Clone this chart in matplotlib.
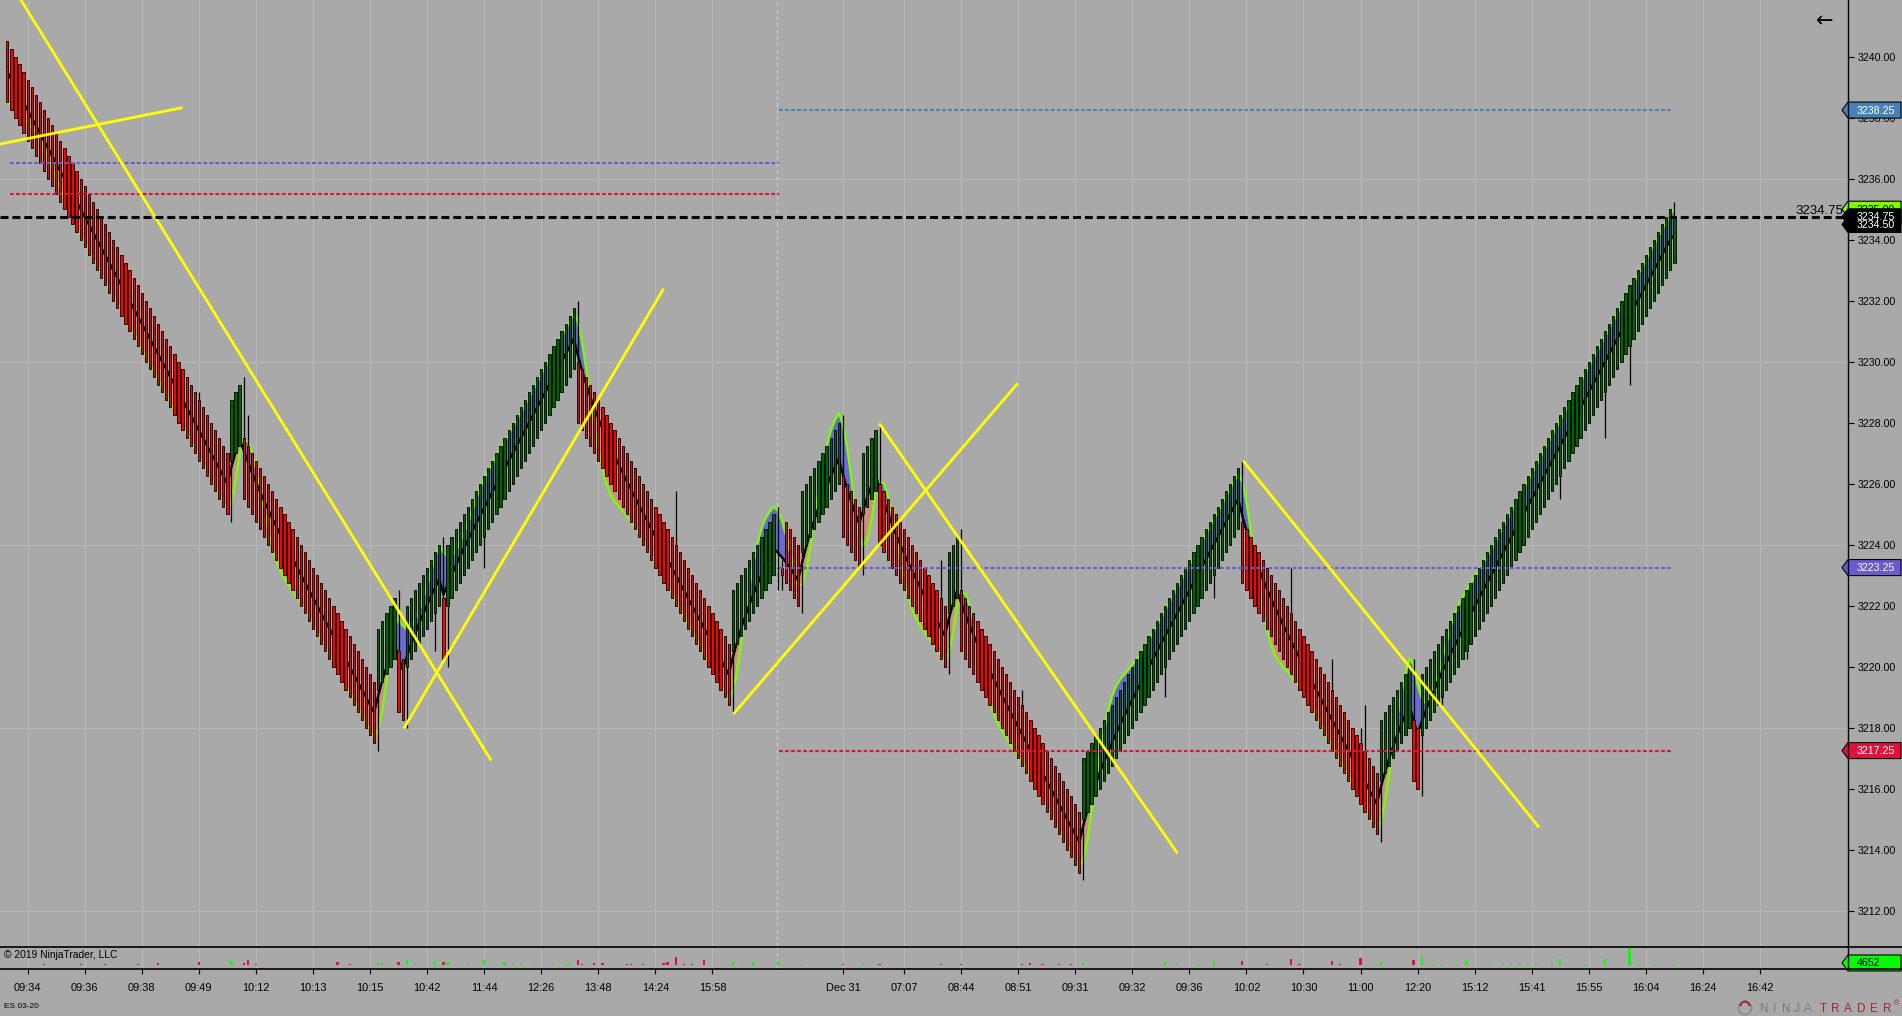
import numpy as np
import matplotlib
matplotlib.use("Agg")
import matplotlib.pyplot as plt
from matplotlib.patches import Polygon, Circle, Arc

plt.rcParams['font.family'] = ['Liberation Sans', 'DejaVu Sans']

# ------------------------------------------------------------------ data
close = [
    3238.50, 3238.25, 3238.00, 3237.75, 3237.50, 3237.25, 3237.00, 3236.75, 3236.50, 3236.25,
    3236.00, 3235.75, 3235.50, 3235.25, 3235.00, 3234.75, 3234.50, 3234.25, 3234.00, 3233.75,
    3233.50, 3233.25, 3233.00, 3232.75, 3232.50, 3232.25, 3232.00, 3231.75, 3231.50, 3231.25,
    3231.00, 3230.75, 3230.50, 3230.25, 3230.00, 3229.75, 3229.50, 3229.25, 3229.00, 3228.75,
    3228.50, 3228.25, 3228.00, 3227.75, 3227.50, 3227.25, 3227.00, 3226.75, 3226.50, 3226.25,
    3226.00, 3225.75, 3225.50, 3225.25, 3225.00,
    3228.75, 3229.00, 3229.25,
    3225.50, 3225.25, 3225.00, 3224.75, 3224.50, 3224.25, 3224.00, 3223.75, 3223.50, 3223.25,
    3223.00, 3222.75, 3222.50, 3222.25, 3222.00, 3221.75, 3221.50, 3221.25, 3221.00, 3220.75,
    3220.50, 3220.25, 3220.00, 3219.75, 3219.50, 3219.25, 3219.00, 3218.75, 3218.50, 3218.25,
    3218.00, 3217.75, 3217.50,
    3221.25, 3221.50, 3221.75, 3222.00, 3222.25,
    3218.50, 3218.25,
    3222.00, 3222.25, 3222.50, 3222.75, 3223.00, 3223.25, 3223.50, 3223.75, 3224.00,
    3220.25,
    3224.00, 3224.25, 3224.50, 3224.75, 3225.00, 3225.25, 3225.50, 3225.75, 3226.00, 3226.25,
    3226.50, 3226.75, 3227.00, 3227.25, 3227.50, 3227.75, 3228.00, 3228.25, 3228.50, 3228.75,
    3229.00, 3229.25, 3229.50, 3229.75, 3230.00, 3230.25, 3230.50, 3230.75, 3231.00, 3231.25,
    3231.50, 3231.75,
    3228.00, 3227.75, 3227.50, 3227.25, 3227.00, 3226.75, 3226.50, 3226.25, 3226.00, 3225.75,
    3225.50, 3225.25, 3225.00, 3224.75, 3224.50, 3224.25, 3224.00, 3223.75, 3223.50, 3223.25,
    3223.00, 3222.75, 3222.50, 3222.25, 3222.00, 3221.75, 3221.50, 3221.25, 3221.00, 3220.75,
    3220.50, 3220.25, 3220.00, 3219.75, 3219.50, 3219.25, 3219.00, 3218.75,
    3222.50, 3222.75, 3223.00, 3223.25, 3223.50, 3223.75, 3224.00, 3224.25, 3224.50, 3224.75,
    3225.00,
    3223.25, 3223.00, 3222.75, 3222.50, 3222.25, 3222.00,
    3225.75, 3226.00, 3226.25, 3226.50, 3226.75, 3227.00, 3227.25, 3227.50, 3227.75, 3228.00,
    3224.25, 3224.00, 3223.75, 3223.50, 3223.25,
    3227.00, 3227.25, 3227.50, 3227.75,
    3224.00, 3223.75, 3223.50, 3223.25, 3223.00, 3222.75, 3222.50, 3222.25, 3222.00, 3221.75,
    3221.50, 3221.25, 3221.00, 3220.75, 3220.50, 3220.25, 3220.00,
    3223.75, 3224.00, 3224.25,
    3220.50, 3220.25, 3220.00, 3219.75, 3219.50, 3219.25, 3219.00, 3218.75, 3218.50, 3218.25,
    3218.00, 3217.75, 3217.50, 3217.25, 3217.00, 3216.75, 3216.50, 3216.25, 3216.00, 3215.75,
    3215.50, 3215.25, 3215.00, 3214.75, 3214.50, 3214.25, 3214.00, 3213.75, 3213.50, 3213.25,
    3217.00, 3217.25, 3217.50, 3217.75, 3218.00, 3218.25, 3218.50, 3218.75, 3219.00, 3219.25,
    3219.50, 3219.75, 3220.00, 3220.25, 3220.50, 3220.75, 3221.00, 3221.25, 3221.50, 3221.75,
    3222.00, 3222.25, 3222.50, 3222.75, 3223.00, 3223.25, 3223.50, 3223.75, 3224.00, 3224.25,
    3224.50, 3224.75, 3225.00, 3225.25, 3225.50, 3225.75, 3226.00, 3226.25, 3226.50,
    3222.75, 3222.50, 3222.25, 3222.00, 3221.75, 3221.50, 3221.25, 3221.00, 3220.75, 3220.50,
    3220.25, 3220.00, 3219.75, 3219.50, 3219.25, 3219.00, 3218.75, 3218.50, 3218.25, 3218.00,
    3217.75, 3217.50, 3217.25, 3217.00, 3216.75, 3216.50, 3216.25, 3216.00, 3215.75, 3215.50,
    3215.25, 3215.00, 3214.75, 3214.50,
    3218.25, 3218.50, 3218.75, 3219.00, 3219.25, 3219.50, 3219.75, 3220.00,
    3216.25, 3216.00,
    3219.75, 3220.00, 3220.25, 3220.50, 3220.75, 3221.00, 3221.25, 3221.50, 3221.75, 3222.00,
    3222.25, 3222.50, 3222.75, 3223.00, 3223.25, 3223.50, 3223.75, 3224.00, 3224.25, 3224.50,
    3224.75, 3225.00, 3225.25, 3225.50, 3225.75, 3226.00, 3226.25, 3226.50, 3226.75, 3227.00,
    3227.25, 3227.50, 3227.75, 3228.00, 3228.25, 3228.50, 3228.75, 3229.00, 3229.25, 3229.50,
    3229.75, 3230.00, 3230.25, 3230.50, 3230.75, 3231.00, 3231.25, 3231.50, 3231.75, 3232.00,
    3232.25, 3232.50, 3232.75, 3233.00, 3233.25, 3233.50, 3233.75, 3234.00, 3234.25, 3234.50,
    3234.75, 3235.00,
    3234.75,
]
BRICK = 2.0                       # body size of every bar (points)
open_override_bars = [189, 190, 409]
open_override_vals = [3223.25, 3223.25, 3233.25]

upper_wick_bars = [47, 58, 59, 96, 107, 140, 164, 189, 190, 205, 214, 229, 234, 249,
                   303, 315, 325, 332, 333, 345, 409]
upper_wick_vals = [3229.0, 3229.5, 3228.25, 3222.5, 3224.25, 3232.0, 3225.75, 3225.25,
                   3223.5, 3228.25, 3228.0, 3223.5, 3224.5, 3219.25, 3226.75, 3223.25,
                   3220.25, 3218.0, 3218.75, 3220.25, 3235.25]
lower_wick_bars = [55, 91, 98, 105, 108, 117, 178, 189, 190, 195, 210, 231, 264, 284,
                   296, 337, 347, 352, 358, 381, 392, 398]
lower_wick_vals = [3224.75, 3217.25, 3218.0, 3220.5, 3220.0, 3223.25, 3218.5, 3222.5,
                   3222.5, 3221.75, 3223.0, 3219.75, 3213.0, 3219.0, 3222.25, 3214.25,
                   3215.75, 3218.75, 3220.25, 3225.5, 3227.5, 3229.25]

vol_bars = [9, 18, 24, 32, 37, 47, 55, 58, 59, 61, 81, 84, 91, 92, 96, 98, 100, 105, 107, 108,
            113, 117, 122, 124, 126, 129, 134, 137, 138, 140, 141, 144, 146, 152, 153, 156,
            161, 162, 164, 166, 168, 171, 178, 180, 183, 189, 195, 205, 210, 214, 229, 234,
            249, 251, 254, 258, 261, 264, 284, 287, 292, 296, 303, 309, 315, 317, 325, 327,
            332, 337, 345, 347, 350, 352, 356, 358, 364, 367, 369, 371, 373, 375, 379, 381,
            387, 392, 398, 400, 404, 409]
vol_vals = [4700, 4700, 4700, 4700, 9300, 14000, 18600, 9300, 23300, 4700,
            14000, 4700, 9300, 9300, 14000, 23300, 4700, 18600, 14000, 14000,
            4700, 23300, 14000, 4700, 4700, 4700, 4700, 4700, 9300, 23300,
            4700, 9300, 9300, 4700, 4700, 4700, 9300, 14000, 37200, 4700,
            4700, 23300, 14000, 4700, 14000, 18600, 4700, 4700, 4700, 4700,
            4700, 4700, 4700, 9300, 4700, 4700, 4700, 9300, 14000, 4700,
            4700, 18600, 18600, 4700, 27900, 4700, 18600, 4700, 32600, 14000,
            23300, 37200, 4700, 4700, 4700, 18600, 4700, 4700, 4700, 4700,
            4700, 4700, 9300, 27900, 4700, 27900, 83700, 4700, 4700, 4652]

tick_bars = [5, 19, 33, 47, 61, 75, 89, 103, 117, 131, 145, 159, 173, 205, 220, 234, 248,
             262, 276, 290, 304, 318, 332, 346, 360, 374, 388, 402, 416, 430]
tick_labels = ['09:34', '09:36', '09:38', '09:49', '10:12', '10:13', '10:15', '10:42',
               '11:44', '12:26', '13:48', '14:24', '15:58', 'Dec 31', '07:07', '08:44',
               '08:51', '09:31', '09:32', '09:36', '10:02', '10:30', '11:00', '12:20',
               '15:12', '15:41', '15:55', '16:04', '16:24', '16:42']
price_ticks = [3212, 3214, 3216, 3218, 3220, 3222, 3224, 3226, 3228, 3230, 3232, 3234,
               3236, 3238, 3240]
grid_prices = [3212, 3218, 3224, 3230, 3236]
session_break_bar = 188.85

trend_start = [(0.0, 3242.58), (-5.0, 3237.05), (97.3, 3217.98), (178.1, 3218.44),
               (213.9, 3227.98), (303.2, 3226.75)]
trend_end = [(118.74, 3216.92), (43.0, 3238.33), (161.0, 3232.39), (247.9, 3229.29),
             (287.1, 3213.88), (375.8, 3214.73)]

level_prices = [3236.50, 3235.50, 3238.25, 3223.25, 3217.25]
level_from = [0.66, 0.66, 189.3, 189.3, 189.3]
level_to = [189.3, 189.3, 408.4, 408.4, 408.4]
level_colors = ['#6a5acd', '#dc143c', '#4682b4', '#6a5acd', '#dc143c']
last_price = 3234.75

axis_tag_prices = [3238.25, 3234.50, 3235.00, 3223.25, 3217.25, 3234.75]
axis_tag_fill = ['#4682b4', '#000000', '#7cfc00', '#6a5acd', '#dc143c', '#000000']
axis_tag_text = ['white', 'white', 'black', 'white', 'white', 'white']
volume_tag = 4652

# ------------------------------------------------------------------ build
c = np.array(close)
n = len(c)
x = np.arange(n)
o = np.empty(n)
for i in range(n):
    if i == 0 or c[i] < c[i - 1]:
        o[i] = c[i] + BRICK
    else:
        o[i] = c[i] - BRICK
for b, v in zip(open_override_bars, open_override_vals):
    o[b] = v
up = c >= o


def ema(vals, period, seed):
    a = 2.0 / (period + 1)
    out = np.empty(len(vals))
    e = seed
    for i, v in enumerate(vals):
        if i > 0:
            e = e + a * (v - e)
        out[i] = e
    return out


def wma(vals, period):
    out = np.empty(len(vals))
    for i in range(len(vals)):
        w = vals[max(0, i - period + 1):i + 1]
        k = np.arange(1, len(w) + 1)
        out[i] = np.dot(w, k) / k.sum()
    return out


slow = ema(c, 9, c[0] + 1.0)
fast = wma(2 * wma(c, 8) - wma(c, 16), 4)

BG = '#a9a9a9'
GRID = '#b8b8b8'
W, H = 1902, 1016
PX0, DX = 7.3, 4.076            # pixel of bar 0 and pixels per bar
Y_PANEL = 946.0                  # bottom of price panel (px)
P_REF, Y_REF, PPX = 3240.0, 56.7, 30.5


def bx(px):
    return (px - PX0) / DX


fig = plt.figure(figsize=(W / 100, H / 100), dpi=100, facecolor=BG)
ax = fig.add_axes([0, (H - Y_PANEL) / H, 1848 / W, Y_PANEL / H])
ax.set_facecolor(BG)
ax.set_xlim(bx(0), bx(1848))
ax.set_ylim(P_REF - (Y_PANEL - Y_REF) / PPX, P_REF + Y_REF / PPX)
for s in ax.spines.values():
    s.set_visible(False)

# grid
for gp in grid_prices:
    ax.axhline(gp, color=GRID, lw=0.8, zorder=0.5)
for tb in tick_bars:
    ax.axvline(tb, color=GRID, lw=0.8, zorder=0.5)
ax.axvline(session_break_bar, color='#d2d2d2', lw=0.8, dashes=(3, 3), zorder=0.6)

# indicator cloud (drawn behind the bars)
ax.fill_between(x, slow, fast, where=fast >= slow, interpolate=True,
                color='#6a6ad2', lw=0, zorder=1)
ax.fill_between(x, slow, fast, where=fast < slow, interpolate=True,
                color='#cc9184', lw=0, zorder=1)
ax.plot(x, fast, color='#7cfc00', lw=1.7, zorder=1.5)
ax.plot(x, slow, color='black', lw=1.7, zorder=1.6)

# wicks
for b, v in zip(upper_wick_bars, upper_wick_vals):
    ax.vlines(b, max(o[b], c[b]), v, color='black', lw=0.9, zorder=1.9)
for b, v in zip(lower_wick_bars, lower_wick_vals):
    ax.vlines(b, v, min(o[b], c[b]), color='black', lw=0.9, zorder=1.9)

# bodies
lo = np.minimum(o, c)
hgt = np.abs(c - o)
ax.bar(x, hgt, bottom=lo, width=0.56, color=np.where(up, '#006400', '#ff0000'),
       edgecolor='black', linewidth=0.6, zorder=2)

# horizontal levels
for p, a0, a1, col in zip(level_prices, level_from, level_to, level_colors):
    ax.hlines(p, a0, a1, color=col, lw=1.5, linestyles=(0, (1.8, 1.1)), zorder=3)

# trend lines
for (x0, y0), (x1, y1) in zip(trend_start, trend_end):
    ax.plot([x0, x1], [y0, y1], color='#ffff00', lw=2.0, zorder=3.5,
            solid_capstyle='butt')

ax.axhline(last_price, color='black', lw=2.2, dashes=(2.6, 1.3), zorder=4)

ax.yaxis.tick_right()
ax.set_yticks(price_ticks)
ax.set_yticklabels([f'{p:.2f}' for p in price_ticks])
ax.tick_params(axis='y', direction='out', length=4.3, width=0.8, pad=2.4,
               labelsize=7.7, colors='black', right=True, left=False)
ax.tick_params(axis='x', bottom=False, labelbottom=False)

# volume panel
axv = fig.add_axes([0, (H - 969.3) / H, 1848 / W, 22.6 / H])
axv.set_facecolor(BG)
axv.set_xlim(bx(0), bx(1848))
VPX = 4650.0
axv.set_ylim(-4.3 * VPX, 18.3 * VPX)
for s in axv.spines.values():
    s.set_visible(False)
for tb in tick_bars:
    axv.axvline(tb, color=GRID, lw=0.8, zorder=0.5)
axv.axvline(session_break_bar, color='#d2d2d2', lw=0.8, dashes=(3, 3), zorder=0.6)
vcol = ['#00ff00' if up[b] else '#dc143c' for b in vol_bars]
axv.bar(vol_bars, vol_vals, width=0.55, color=vcol, lw=0, zorder=2)
axv.set_yticks([])
axv.set_xticks(tick_bars)
axv.set_xticklabels(tick_labels)
axv.tick_params(axis='x', direction='out', length=3.6, width=0.8, pad=6.0,
                labelsize=7.9, colors='black')

# overlay in pixel coordinates
ov = fig.add_axes([0, 0, 1, 1], zorder=10)
ov.set_xlim(0, W)
ov.set_ylim(H, 0)
ov.axis('off')
ov.patch.set_alpha(0)

ov.plot([1848, 1848], [0, 969.3], color='black', lw=1.0)
ov.plot([0, W], [946.7, 946.7], color='black', lw=1.2)
ov.plot([0, W], [969.3, 969.3], color='black', lw=1.2)


def price_px(p):
    return H - ax.transData.transform((0, p))[1]


def tag(yc, txt, fc, tc):
    pts = [(1842, yc), (1848, yc - 8), (1901, yc - 8), (1901, yc + 8), (1848, yc + 8)]
    ov.add_patch(Polygon(pts, closed=True, fc=fc, ec='black', lw=0.8))
    ov.text(1856.5, yc + 0.5, txt, color=tc, fontsize=7.7, ha='left', va='center')


for p, fc, tc in zip(axis_tag_prices, axis_tag_fill, axis_tag_text):
    tag(price_px(p), f'{p:.2f}', fc, tc)
tag(963.0, str(volume_tag), '#00ff00', 'black')

ov.text(1843, 214.5, f'{last_price:.2f}', ha='right', va='baseline', fontsize=9.5,
        color='black')
ov.text(1825, 21, '\u2190', ha='center', va='center', fontsize=15, color='black',
        family=['DejaVu Sans'])
ov.text(4, 955.5, '\u00a9 2019 NinjaTrader, LLC', ha='left', va='center', fontsize=7.4,
        color='black')
ov.text(4, 1007, 'ES 03-20', ha='left', va='center', fontsize=6, color='black')

# logo
logo = 'NINJATRADER'
logo_x = [1764, 1775, 1786, 1797, 1808, 1823, 1835, 1848, 1861, 1874, 1887]
for ch, lx, k in zip(logo, logo_x, range(len(logo))):
    ov.text(lx, 1008.5, ch, ha='center', va='center', fontsize=8.4,
            color='#7a7a7a' if k < 5 else '#a3262a')
ov.text(1897, 1004, '\u00ae', ha='center', va='center', fontsize=5, color='#a3262a')
ov.add_patch(Circle((1745, 1008), 6.5, fc='none', ec='#8a8a8a', lw=1.2))
ov.add_patch(Arc((1745, 1008), 10, 13, theta1=200, theta2=340, ec='#a3262a', lw=1.4))

fig.savefig('out.png', dpi=100, facecolor=BG)
